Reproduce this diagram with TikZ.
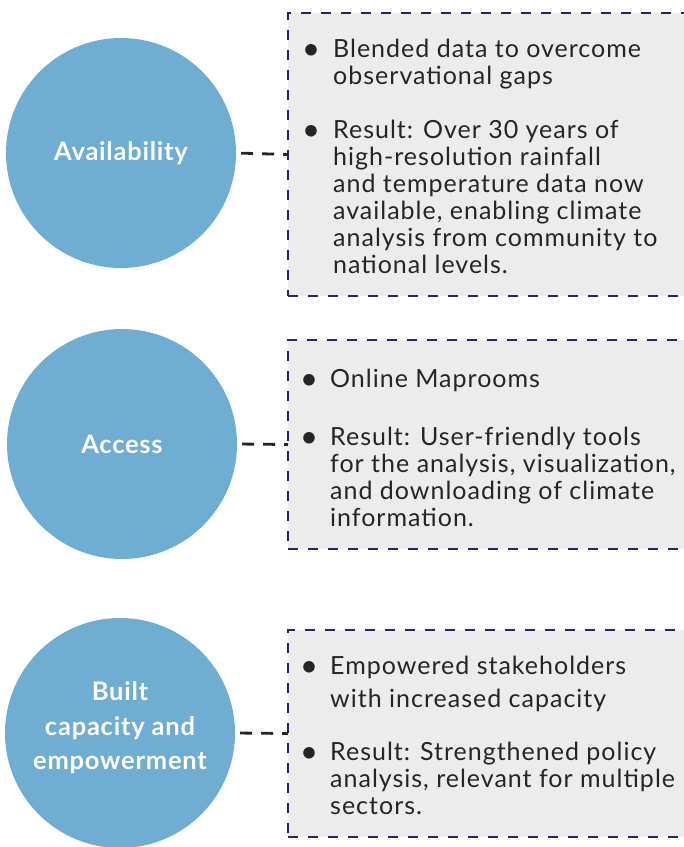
\documentclass[tikz,border=0pt]{standalone}
\usepackage{fontspec}
\setmainfont{Lato}[LetterSpace=4]
\newfontfamily\bubblefont{Lato}[LetterSpace=3]
\definecolor{bubblefill}{HTML}{70ADD3}
\definecolor{panelfill}{HTML}{ECECEC}
\definecolor{panelline}{HTML}{23285F}
\definecolor{inktext}{HTML}{252525}
\newcommand\itemlines[1]{\begin{tabular}[t]{@{}l@{}}#1\end{tabular}}
\tikzset{
  bubble/.style={circle, fill=bubblefill, minimum size=230pt, inner sep=0pt,
    text=white, align=center, font=\bubblefont\bfseries\fontsize{25.5}{34.5}\selectfont},
  panel/.style={rectangle, fill=panelfill, draw=panelline, line width=2.8pt,
    dash pattern=on 10pt off 10pt, outer sep=0pt, minimum width=420pt},
  link/.style={draw=inktext, line width=2.8pt, dash pattern=on 12pt off 9pt,
    shorten <=5pt},
  itemtext/.style={anchor=base west, inner sep=0pt, text=inktext,
    font=\fontsize{25}{27}\selectfont},
  bulletmark/.style={anchor=base, inner sep=0pt, text=inktext,
    font=\fontsize{31}{27}\selectfont},
}
\begin{document}
\begin{tikzpicture}[x=1pt,y=-1pt]
\useasboundingbox (0,0) rectangle (684,847);
\clip (0,0) rectangle (684,847);

% panels
\node[panel, minimum height=283pt] (b1) at (498,154.5) {};
\node[panel, minimum height=209pt] (b2) at (498,444.5) {};
\node[panel, minimum height=207pt] (b3) at (498,733.5) {};

% circles
\node[bubble] (c1) at (121,153) {Availability};
\node[bubble] (c2) at (122,444) {Access};
\node[circle, fill=bubblefill, minimum size=230pt, inner sep=0pt] (c3) at (120,733) {};
\node[text=white, align=center, font=\bubblefont\bfseries\fontsize{25.5}{34.5}\selectfont] (c3t) at (120,728) {Built\\capacity and\\empowerment};

% connectors
\draw[link] (c1.east) -- (b1.west);
\draw[link] (c2.east) -- (b2.west);
\draw[link] (c3.east) -- (b3.west);

% panel 1
\node[bulletmark] (p1a) at (311,59) {•};
\node[itemtext] (t1a) at (333,57) {\itemlines{Blended data to overcome\\observational gaps}};
\node[bulletmark] (p1b) at (311,140) {•};
\node[itemtext] (t1b) at (333,138) {\itemlines{Result: Over 30 years of\\high-resolution rainfall\\and temperature data now\\available, enabling climate\\analysis from community to\\national levels.}};

% panel 2
\node[bulletmark] (p2a) at (309,389) {•};
\node[itemtext] (t2a) at (330,387) {\itemlines{Online Maprooms}};
\node[bulletmark] (p2b) at (309,447) {•};
\node[itemtext] (t2b) at (330,445) {\itemlines{Result: User-friendly tools\\for the analysis, visualization,\\and downloading of climate\\information.}};

% panel 3
\node[bulletmark] (p3a) at (309,676) {•};
\node[itemtext] (t3a) at (330,674) {\itemlines{Empowered stakeholders\\[6pt]with increased capacity}};
\node[bulletmark] (p3b) at (309,762) {•};
\node[itemtext] (t3b) at (330,760) {\itemlines{Result: Strengthened policy\\analysis, relevant for multiple\\sectors.}};
\end{tikzpicture}
\end{document}
